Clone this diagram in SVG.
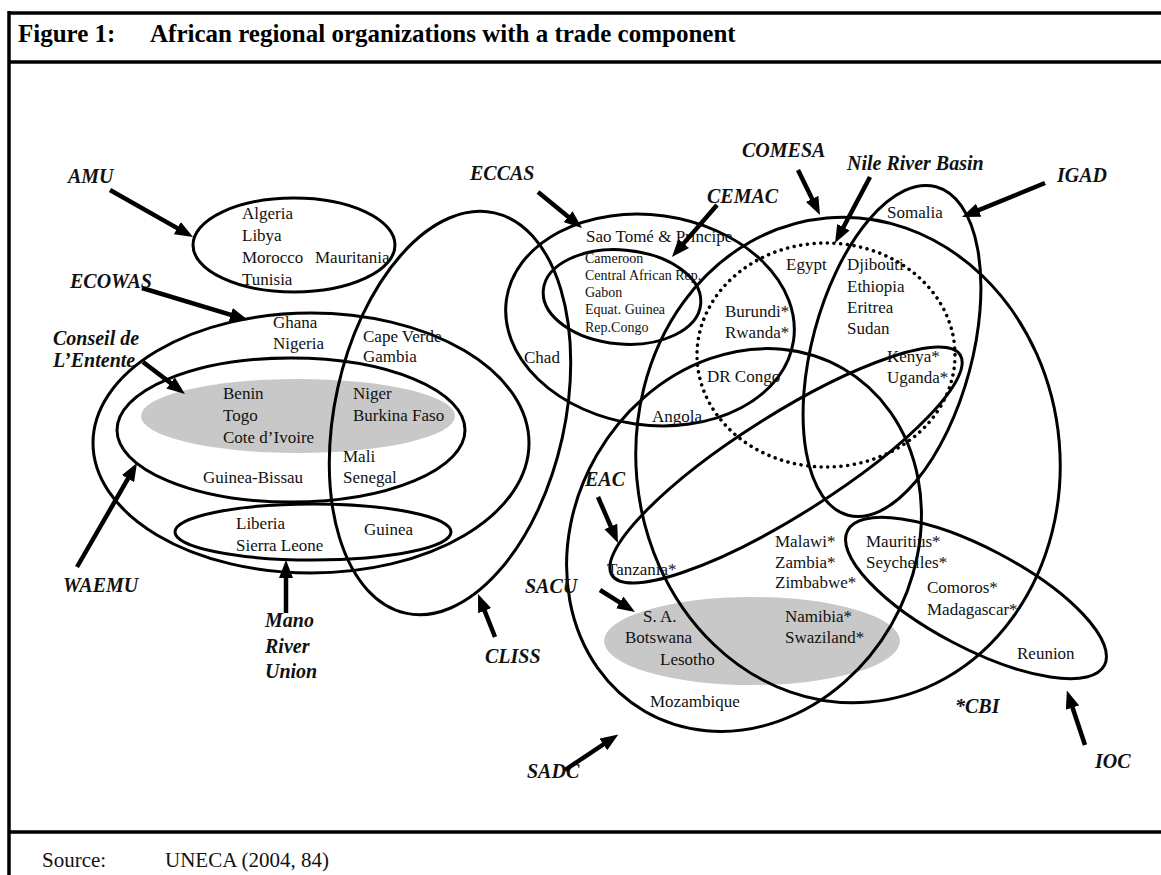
<svg xmlns="http://www.w3.org/2000/svg" width="1161" height="875" viewBox="0 0 1161 875">
<defs>
<marker id="ah" markerUnits="userSpaceOnUse" markerWidth="18" markerHeight="14" viewBox="0 0 18 14" refX="8" refY="7" orient="auto">
<path d="M0,0 L18,7 L0,14 z" fill="#000"/>
</marker>
</defs>
<style>
.frame{stroke:#000;stroke-width:3.5;fill:none}
.org{fill:none;stroke:#000;stroke-width:3}
.dot{fill:none;stroke:#000;stroke-width:3.5;stroke-dasharray:0.1 6.6;stroke-linecap:round}
.shade{fill:#c8c8c8;stroke:none}
.arr{stroke:#000;stroke-width:4.5;fill:none;marker-end:url(#ah)}
.c{font-family:'Liberation Serif','Times New Roman',serif;font-size:17px;fill:#111}
.cs{font-family:'Liberation Serif','Times New Roman',serif;font-size:14px;fill:#111}
.lab{font-family:'Liberation Serif','Times New Roman',serif;font-size:20px;font-weight:bold;font-style:italic;fill:#111}
.title{font-family:'Liberation Serif','Times New Roman',serif;font-size:25px;font-weight:bold;fill:#000}
.src{font-family:'Liberation Serif','Times New Roman',serif;font-size:21px;fill:#111}
</style>
<rect width="1161" height="875" fill="#fff"/>
<g id="frame">
<line class="frame" x1="9" y1="13" x2="1161" y2="13"/>
<line class="frame" x1="9" y1="62" x2="1161" y2="62"/>
<line class="frame" x1="9" y1="832" x2="1161" y2="832"/>
<line class="frame" x1="9" y1="11" x2="9" y2="875"/>
<text class="title" x="18" y="42">Figure 1:</text>
<text class="title" x="150" y="42">African regional organizations with a trade component</text>
<text class="src" x="42" y="867">Source:</text>
<text class="src" x="165" y="867">UNECA (2004, 84)</text>
</g>
<g id="shading">
<ellipse class="shade" cx="298" cy="416" rx="157" ry="37"/>
<ellipse class="shade" cx="752" cy="641" rx="148" ry="44"/>
</g>
<g id="AMU">
<ellipse class="org" cx="294" cy="245" rx="101" ry="47"/>
<text class="c" x="242" y="219">Algeria</text>
<text class="c" x="242" y="241">Libya</text>
<text class="c" x="242" y="263">Morocco</text>
<text class="c" x="315" y="263">Mauritania</text>
<text class="c" x="242" y="285">Tunisia</text>
<text class="lab" x="68" y="183">AMU</text>
</g>
<g id="ECOWAS">
<ellipse class="org" cx="311" cy="443" rx="218" ry="130"/>
<text class="c" x="273" y="328">Ghana</text>
<text class="c" x="273" y="349">Nigeria</text>
<text class="lab" x="70" y="288">ECOWAS</text>
</g>
<g id="WAEMU">
<ellipse class="org" cx="291" cy="430" rx="174" ry="72"/>
<text class="c" x="223" y="399">Benin</text>
<text class="c" x="223" y="421">Togo</text>
<text class="c" x="223" y="443">Cote d’Ivoire</text>
<text class="c" x="353" y="399">Niger</text>
<text class="c" x="353" y="421">Burkina Faso</text>
<text class="c" x="343" y="462">Mali</text>
<text class="c" x="343" y="483">Senegal</text>
<text class="c" x="203" y="483">Guinea-Bissau</text>
<text class="lab" x="63" y="592">WAEMU</text>
</g>
<g id="Conseil">
<text class="lab" x="53" y="345">Conseil de</text>
<text class="lab" x="53" y="367">L’Entente</text>
</g>
<g id="Mano">
<ellipse class="org" cx="313" cy="532" rx="138" ry="28"/>
<text class="c" x="236" y="529">Liberia</text>
<text class="c" x="236" y="551">Sierra Leone</text>
<text class="c" x="364" y="535">Guinea</text>
<text class="lab" x="265" y="627">Mano</text>
<text class="lab" x="265" y="653">River</text>
<text class="lab" x="265" y="678">Union</text>
</g>
<g id="CLISS">
<ellipse class="org" cx="450" cy="413" rx="115" ry="205" transform="rotate(12.5 450 413)"/>
<text class="c" x="363" y="342">Cape Verde</text>
<text class="c" x="363" y="362">Gambia</text>
<text class="lab" x="485" y="663">CLISS</text>
</g>
<g id="ECCAS">
<ellipse class="org" cx="650" cy="320" rx="145" ry="105" transform="rotate(8 650 320)"/>
<text class="c" x="586" y="242">Sao Tomé &amp; Principe</text>
<text class="c" x="524" y="363">Chad</text>
<text class="lab" x="470" y="180">ECCAS</text>
</g>
<g id="CEMAC">
<ellipse class="org" cx="622" cy="297" rx="79" ry="47" transform="rotate(5 622 297)"/>
<text class="cs" x="585" y="263">Cameroon</text>
<text class="cs" x="585" y="280">Central African Rep.</text>
<text class="cs" x="585" y="297">Gabon</text>
<text class="cs" x="585" y="314">Equat. Guinea</text>
<text class="cs" x="585" y="332">Rep.Congo</text>
<text class="lab" x="707" y="203">CEMAC</text>
</g>
<g id="COMESA">
<ellipse class="org" cx="848" cy="460" rx="212" ry="243" transform="rotate(-5 848 460)"/>
<text class="c" x="786" y="270">Egypt</text>
<text class="lab" x="742" y="157">COMESA</text>
</g>
<g id="Nile">
<ellipse class="dot" cx="826" cy="355" rx="129" ry="112"/>
<text class="c" x="725" y="317">Burundi*</text>
<text class="c" x="725" y="338">Rwanda*</text>
<text class="c" x="707" y="382">DR Congo</text>
<text class="lab" x="847" y="170">Nile River Basin</text>
</g>
<g id="IGAD">
<ellipse class="org" cx="892" cy="351" rx="80" ry="170" transform="rotate(15 892 351)"/>
<text class="c" x="887" y="218">Somalia</text>
<text class="c" x="847" y="270">Djibouti</text>
<text class="c" x="847" y="292">Ethiopia</text>
<text class="c" x="847" y="313">Eritrea</text>
<text class="c" x="847" y="334">Sudan</text>
<text class="lab" x="1057" y="182">IGAD</text>
</g>
<g id="EAC">
<ellipse class="org" cx="786" cy="465" rx="206" ry="50" transform="rotate(-32.3 786 465)"/>
<text class="c" x="887" y="362">Kenya*</text>
<text class="c" x="887" y="383">Uganda*</text>
<text class="c" x="607" y="575">Tanzania*</text>
<text class="lab" x="585" y="486">EAC</text>
</g>
<g id="SADC">
<ellipse class="org" cx="744" cy="540" rx="170" ry="198" transform="rotate(30 744 540)"/>
<text class="c" x="652" y="422">Angola</text>
<text class="c" x="775" y="547">Malawi*</text>
<text class="c" x="775" y="568">Zambia*</text>
<text class="c" x="775" y="588">Zimbabwe*</text>
<text class="c" x="650" y="707">Mozambique</text>
<text class="lab" x="527" y="778">SADC</text>
<text class="lab" x="955" y="713">*CBI</text>
</g>
<g id="SACU">
<text class="c" x="643" y="622">S. A.</text>
<text class="c" x="625" y="643">Botswana</text>
<text class="c" x="660" y="665">Lesotho</text>
<text class="c" x="785" y="622">Namibia*</text>
<text class="c" x="785" y="643">Swaziland*</text>
<text class="lab" x="525" y="593">SACU</text>
</g>
<g id="IOC">
<ellipse class="org" cx="976" cy="598" rx="145" ry="50" transform="rotate(27.7 976 598)"/>
<text class="c" x="866" y="547">Mauritius*</text>
<text class="c" x="866" y="568">Seychelles*</text>
<text class="c" x="927" y="593">Comoros*</text>
<text class="c" x="927" y="615">Madagascar*</text>
<text class="c" x="1017" y="659">Reunion</text>
<text class="lab" x="1095" y="768">IOC</text>
</g>
<g id="connectors">
<line class="arr" x1="110" y1="190" x2="184.3" y2="232.1"/>
<line class="arr" x1="142" y1="288" x2="238.4" y2="317.1"/>
<line class="arr" x1="143" y1="362" x2="177" y2="387.9"/>
<line class="arr" x1="77" y1="567" x2="132" y2="471.7"/>
<line class="arr" x1="286" y1="613" x2="286" y2="570"/>
<line class="arr" x1="495" y1="637" x2="481.7" y2="603.3"/>
<line class="arr" x1="538" y1="192" x2="574.3" y2="221.7"/>
<line class="arr" x1="717" y1="205" x2="678.5" y2="249.4"/>
<line class="arr" x1="798" y1="170" x2="815.6" y2="206"/>
<line class="arr" x1="870" y1="177" x2="839.7" y2="234.2"/>
<line class="arr" x1="1045" y1="183" x2="971.3" y2="213.2"/>
<line class="arr" x1="598" y1="497" x2="614" y2="533.8"/>
<line class="arr" x1="600" y1="590" x2="626.5" y2="606.7"/>
<line class="arr" x1="565" y1="770" x2="610" y2="740"/>
<line class="arr" x1="1085" y1="745" x2="1070" y2="700"/>
</g>
</svg>
